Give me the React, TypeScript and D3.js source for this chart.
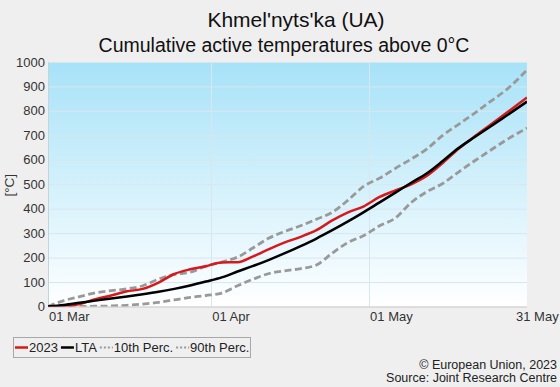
import React, { useEffect, useRef } from "react";
import * as d3 from "d3";

// days since 01 Mar 2023
const days = [0, 3, 6, 9, 12, 15, 18, 21, 24, 27, 30, 33, 36, 39, 42, 45, 48, 51, 54, 57, 60, 63, 66, 69, 72, 75, 78, 81, 84, 87, 91];
const y2023 = [0, 1, 10, 30, 45, 62, 72, 98, 133, 152, 165, 180, 181, 205, 235, 262, 285, 312, 352, 385, 410, 448, 475, 500, 535, 587, 645, 695, 742, 790, 855];
const lta = [0, 6, 15, 24, 33, 41, 50, 60, 72, 86, 102, 119, 143, 166, 191, 218, 247, 278, 312, 348, 386, 426, 466, 506, 545, 595, 648, 692, 735, 779, 838];
const p10 = [0, 0, 0, 1, 2, 5, 10, 17, 27, 37, 45, 55, 85, 112, 135, 146, 155, 170, 218, 262, 290, 330, 362, 425, 470, 503, 550, 595, 638, 680, 730];
const p90 = [0, 24, 40, 56, 65, 72, 85, 112, 131, 140, 165, 182, 202, 240, 280, 307, 330, 357, 385, 435, 492, 525, 565, 603, 645, 700, 745, 790, 838, 885, 968];

const tickDays = [0, 31, 61, 91];
const tickLabels = ["01 Mar", "01 Apr", "01 May", "31 May"];
const yTicks = [0, 100, 200, 300, 400, 500, 600, 700, 800, 900, 1000];

const legendItems = [
  { name: "2023", color: "#d7191c", dash: null },
  { name: "LTA", color: "#000000", dash: null },
  { name: "10th Perc.", color: "#999999", dash: "2,2" },
  { name: "90th Perc.", color: "#999999", dash: "2,2" },
];

const FONT = "'Liberation Sans', Arial, sans-serif";

const App = () => {
  const ref = useRef<SVGSVGElement>(null);

  useEffect(() => {
    const width = 560,
      height = 387;
    const margin = { top: 62, right: 33, bottom: 80.5, left: 48 };

    const svg = d3.select(ref.current);
    svg.selectAll("*").remove();

    svg.append("rect").attr("width", width).attr("height", height).attr("fill", "#efefef");

    const x = d3.scaleLinear().domain([0, 91]).range([margin.left, width - margin.right]);
    const y = d3.scaleLinear().domain([0, 1000]).range([height - margin.bottom, margin.top]);

    // plot background gradient
    const defs = svg.append("defs");
    const grad = defs
      .append("linearGradient")
      .attr("id", "bg")
      .attr("x1", 0)
      .attr("y1", 0)
      .attr("x2", 0)
      .attr("y2", 1);
    grad.append("stop").attr("offset", "0%").attr("stop-color", "#a7e2f8");
    grad.append("stop").attr("offset", "100%").attr("stop-color", "#ffffff");
    defs
      .append("clipPath")
      .attr("id", "plotclip")
      .append("rect")
      .attr("x", x(0))
      .attr("y", y(1000) - 2)
      .attr("width", x(91) - x(0))
      .attr("height", y(0) - y(1000) + 2);

    svg
      .append("rect")
      .attr("x", x(0))
      .attr("y", y(1000))
      .attr("width", x(91) - x(0))
      .attr("height", y(0) - y(1000))
      .attr("fill", "url(#bg)");

    // grid
    svg
      .append("g")
      .selectAll("line")
      .data(yTicks.slice(1))
      .enter()
      .append("line")
      .attr("x1", x(0))
      .attr("x2", x(91))
      .attr("y1", (d) => y(d) + 0.5)
      .attr("y2", (d) => y(d) + 0.5)
      .attr("stroke", "#d8e6ee")
      .attr("stroke-width", 1);
    svg
      .append("g")
      .selectAll("line")
      .data(tickDays.slice(1, 3))
      .enter()
      .append("line")
      .attr("x1", (d) => Math.round(x(d)) + 0.5)
      .attr("x2", (d) => Math.round(x(d)) + 0.5)
      .attr("y1", y(1000))
      .attr("y2", y(0))
      .attr("stroke", "#d8e6ee")
      .attr("stroke-width", 1);

    // axis lines
    svg
      .append("line")
      .attr("x1", x(0) + 0.5)
      .attr("x2", x(0) + 0.5)
      .attr("y1", y(1000))
      .attr("y2", y(0))
      .attr("stroke", "#c4d4dc");
    svg
      .append("line")
      .attr("x1", x(0))
      .attr("x2", x(91))
      .attr("y1", y(0) + 0.5)
      .attr("y2", y(0) + 0.5)
      .attr("stroke", "#c8c8c8");

    // y labels
    svg
      .append("g")
      .selectAll("text")
      .data(yTicks)
      .enter()
      .append("text")
      .attr("x", x(0) - 3)
      .attr("y", (d) => y(d) + 4.5)
      .attr("text-anchor", "end")
      .attr("font-family", FONT)
      .attr("font-size", 13)
      .attr("fill", "#333")
      .text((d) => d);

    svg
      .append("text")
      .attr("transform", `translate(14,${(y(0) + y(1000)) / 2 + 1}) rotate(-90)`)
      .attr("text-anchor", "middle")
      .attr("font-family", FONT)
      .attr("font-size", 13.5)
      .attr("fill", "#333")
      .text("[°C]");

    // x labels
    svg
      .append("g")
      .selectAll("text")
      .data(tickDays)
      .enter()
      .append("text")
      .attr("x", (d, i) => x(d) + (i === 3 ? -11 : 1))
      .attr("y", y(0) + 14)
      .attr("text-anchor", "start")
      .attr("font-family", FONT)
      .attr("font-size", 13)
      .attr("fill", "#333")
      .text((d, i) => tickLabels[i]);

    // lines
    const line = (vals: number[]) =>
      d3
        .line<number>()
        .x((d, i) => x(days[i]))
        .y((d) => y(d))
        .curve(d3.curveMonotoneX)(vals);

    const g = svg.append("g").attr("clip-path", "url(#plotclip)");
    const series = [
      { vals: p10, color: "#999999", dash: "7,3.5", w: 2.8 },
      { vals: p90, color: "#999999", dash: "7,3.5", w: 2.8 },
      { vals: y2023, color: "#d7191c", dash: null, w: 2.5 },
      { vals: lta, color: "#000000", dash: null, w: 2.5 },
    ];
    series.forEach((s) => {
      g.append("path")
        .attr("d", line(s.vals))
        .attr("fill", "none")
        .attr("stroke", s.color)
        .attr("stroke-width", s.w)
        .attr("stroke-dasharray", s.dash)
        .attr("stroke-linejoin", "round");
    });

    // title
    svg
      .append("text")
      .attr("x", 296)
      .attr("y", 27)
      .attr("text-anchor", "middle")
      .attr("font-family", FONT)
      .attr("font-size", 21)
      .attr("fill", "#111")
      .text("Khmel'nyts'ka (UA)");
    svg
      .append("text")
      .attr("x", 284)
      .attr("y", 52)
      .attr("text-anchor", "middle")
      .attr("font-family", FONT)
      .attr("font-size", 19.5)
      .attr("fill", "#111")
      .text("Cumulative active temperatures above 0°C");

    // legend
    const lg = svg.append("g");
    lg.append("rect")
      .attr("x", 13.5)
      .attr("y", 337.5)
      .attr("width", 237)
      .attr("height", 20)
      .attr("fill", "#efefef")
      .attr("stroke", "#a8a8a8");
    let lx = 15;
    legendItems.forEach((it) => {
      lg.append("line")
        .attr("x1", lx)
        .attr("x2", lx + 13)
        .attr("y1", 347.5)
        .attr("y2", 347.5)
        .attr("stroke", it.color)
        .attr("stroke-width", it.dash ? 2 : 2.5)
        .attr("stroke-dasharray", it.dash);
      const t = lg
        .append("text")
        .attr("x", lx + 14)
        .attr("y", 352)
        .attr("font-family", FONT)
        .attr("font-size", 13)
        .attr("fill", "#222")
        .text(it.name);
      const w = (t.node() as SVGTextElement).getComputedTextLength();
      lx += 14 + w + 3;
    });

    // credits
    svg
      .append("text")
      .attr("x", 557)
      .attr("y", 369)
      .attr("text-anchor", "end")
      .attr("font-family", FONT)
      .attr("font-size", 12.5)
      .attr("fill", "#222")
      .text("© European Union, 2023");
    svg
      .append("text")
      .attr("x", 557)
      .attr("y", 382)
      .attr("text-anchor", "end")
      .attr("font-family", FONT)
      .attr("font-size", 12.5)
      .attr("fill", "#222")
      .text("Source: Joint Research Centre");
  }, []);

  return (
    <svg
      ref={ref}
      width={560}
      height={387}
      style={{ position: "absolute", left: 0, top: 0, display: "block" }}
    ></svg>
  );
};

export default App;
